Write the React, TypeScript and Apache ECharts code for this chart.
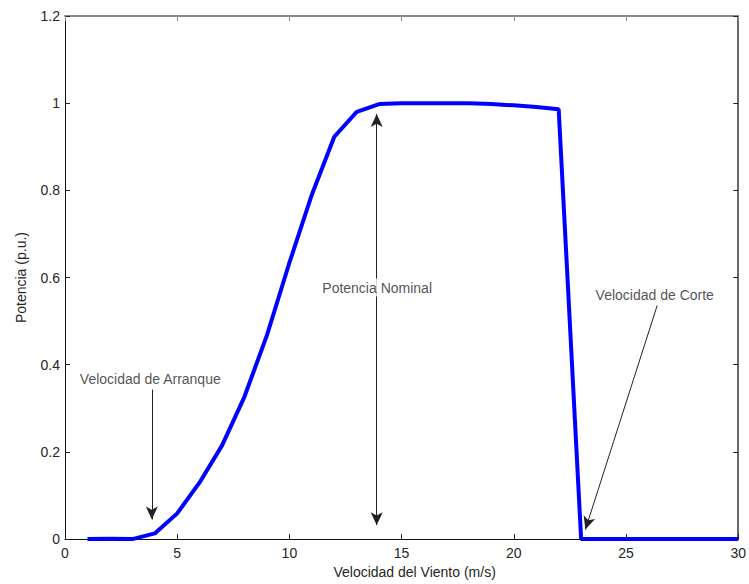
import React, { useEffect, useRef } from "react";
import * as echarts from "echarts";

const windSpeed = [1, 2, 3, 4, 5, 6, 7, 8, 9, 10, 11, 12, 13, 14, 15, 16, 17, 18, 19, 20, 21, 22, 23, 24, 25, 26, 27, 28, 29, 30];
const power = [0, 0.001, 0, 0.013, 0.059, 0.13, 0.215, 0.327, 0.468, 0.634, 0.79, 0.923, 0.98, 0.998, 1.0, 1.0, 1.0, 1.0, 0.998, 0.995, 0.991, 0.986, 0, 0, 0, 0, 0, 0, 0, 0];

const xTicks = [0, 5, 10, 15, 20, 25, 30];
const yTickLabels = ["0", "0.2", "0.4", "0.6", "0.8", "1", "1.2"];

const annotationTexts = [
  { text: "Velocidad de Arranque", x: 3.8, y: 0.368, boxed: false },
  { text: "Potencia Nominal", x: 13.91, y: 0.577, boxed: true },
  { text: "Velocidad de Corte", x: 26.28, y: 0.561, boxed: false },
];

const arrows = [
  { from: [3.87, 0.343], to: [3.87, 0.045], both: false },
  { from: [13.89, 0.975], to: [13.89, 0.032], both: true },
  { from: [26.39, 0.536], to: [23.19, 0.022], both: false },
];

const FONT = "'Liberation Sans', Arial, sans-serif";
const TXT = "#262626";
const FS = 14;

export default function App() {
  const ref = useRef<HTMLDivElement>(null);
  useEffect(() => {
    if (!ref.current) return;
    const chart = echarts.init(ref.current, undefined, { renderer: "svg" });
    const axisCommon = {
      type: "value" as const,
      axisTick: { show: true, inside: true, length: 5, lineStyle: { color: "#222", width: 1 } },
      splitLine: { show: false },
    };
    chart.setOption({
      animation: false,
      backgroundColor: "#ffffff",
      textStyle: { fontFamily: FONT },
      grid: { left: 65, right: 10, top: 16, bottom: 40, containLabel: false },
      xAxis: [
        {
          ...axisCommon,
          min: 0,
          max: 30,
          interval: 5,
          position: "bottom",
          axisLine: { show: true, onZero: false, lineStyle: { color: "#111", width: 1 } },
          axisLabel: {
            margin: 7,
            color: TXT,
            fontSize: FS,
            fontFamily: FONT,
            formatter: (v: number) => (xTicks.includes(v) ? String(v) : ""),
          },
          name: "Velocidad del Viento (m/s)",
          nameLocation: "middle",
          nameGap: 25,
          nameTextStyle: { color: TXT, fontSize: FS, fontFamily: FONT, padding: [0, 0, 0, 26] },
        },
        {
          ...axisCommon,
          min: 0,
          max: 30,
          interval: 5,
          position: "top",
          axisLine: { show: true, onZero: false, lineStyle: { color: "#8a8a8a", width: 2 } },
          axisTick: { show: true, inside: true, length: 5, lineStyle: { color: "#8a8a8a" } },
          axisLabel: { show: false },
        },
      ],
      yAxis: [
        {
          ...axisCommon,
          min: 0,
          max: 1.2,
          interval: 0.2,
          position: "left",
          axisLine: { show: true, onZero: false, lineStyle: { color: "#111", width: 1 } },
          axisLabel: {
            margin: 5,
            color: TXT,
            fontSize: FS,
            fontFamily: FONT,
            formatter: (v: number) => yTickLabels[Math.round(v / 0.2)] ?? "",
          },
          name: "Potencia (p.u.)",
          nameLocation: "middle",
          nameGap: 37,
          nameTextStyle: { color: TXT, fontSize: FS, fontFamily: FONT },
        },
        {
          ...axisCommon,
          min: 0,
          max: 1.2,
          interval: 0.2,
          position: "right",
          axisLine: { show: true, onZero: false, lineStyle: { color: "#333", width: 1.5 } },
          axisLabel: { show: false },
        },
      ],
      series: [
        {
          type: "line",
          data: windSpeed.map((x, i) => [x, power[i]]),
          symbol: "none",
          lineStyle: { color: "#0000ff", width: 4 },
          z: 3,
        },
        {
          type: "scatter",
          symbolSize: 0,
          z: 5,
          data: annotationTexts.map((a) => ({
            value: [a.x, a.y],
            label: {
              show: true,
              position: "inside",
              formatter: a.text,
              color: TXT,
              fontSize: FS,
              fontFamily: FONT,
              backgroundColor: a.boxed ? "#ffffff" : "transparent",
              padding: a.boxed ? [2, 1] : 0,
            },
          })),
          markLine: {
            silent: true,
            animation: false,
            label: { show: false },
            lineStyle: { color: "#222", width: 1, type: "solid" },
            symbolSize: [9, 13],
            data: arrows.map((a) => [
              { coord: a.from, symbol: a.both ? "arrow" : "none" },
              { coord: a.to, symbol: "arrow" },
            ]),
          },
        },
      ],
    });
    return () => chart.dispose();
  }, []);
  return <div ref={ref} style={{ position: "fixed", left: 0, top: 0, width: 749, height: 584 }} />;
}
